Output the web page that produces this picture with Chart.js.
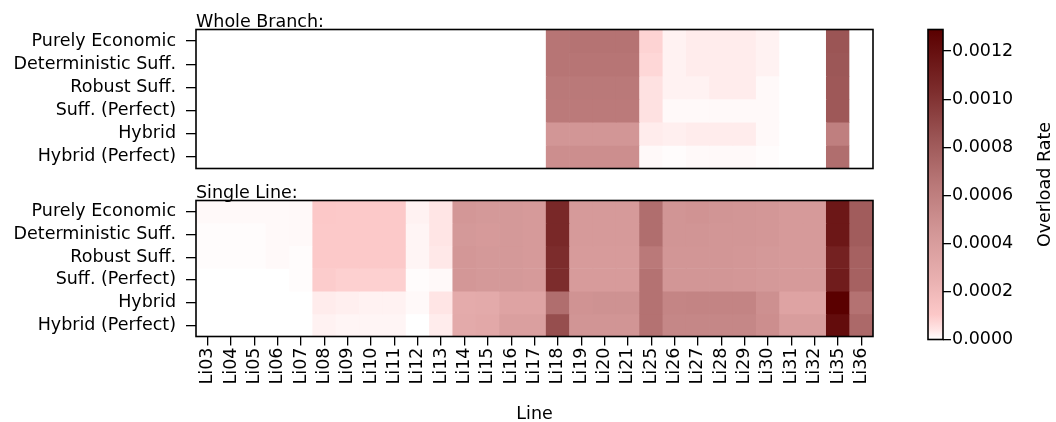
<!DOCTYPE html>
<html>
<head>
<meta charset="utf-8">
<script src="https://cdn.jsdelivr.net/npm/chart.js@4.4.0/dist/chart.umd.min.js"></script>
<style>
  html, body { margin: 0; padding: 0; background: #fff; overflow: hidden; }
  #wrap { position: relative; width: 1056px; height: 422px; overflow: hidden; }
  canvas { position: absolute; }
</style>
</head>
<body>
<div id="wrap">
  <canvas id="topChart" width="890" height="190" style="left:0;top:0"></canvas>
  <canvas id="bottomChart" width="890" height="245" style="left:0;top:180px"></canvas>
  <canvas id="colorbar" width="176" height="422" style="left:880px;top:0"></canvas>
</div>
<script>
  // Data
  const lines = ['Li03', 'Li04', 'Li05', 'Li06', 'Li07', 'Li08', 'Li09', 'Li10', 'Li11', 'Li12',
    'Li13', 'Li14', 'Li15', 'Li16', 'Li17', 'Li18', 'Li19', 'Li20', 'Li21', 'Li25',
    'Li26', 'Li27', 'Li28', 'Li29', 'Li30', 'Li31', 'Li32', 'Li35', 'Li36'];
  const strategies = ['Purely Economic', 'Deterministic Suff.', 'Robust Suff.',
    'Suff. (Perfect)', 'Hybrid', 'Hybrid (Perfect)'];

  // overload rate, one row per strategy
  const wholeBranch = [
    [0, 0, 0, 0, 0, 0, 0, 0, 0, 0, 0, 0, 0, 0, 0, 0.00066, 0.00067, 0.00067, 0.00067, 0.00008, 0.00002, 0.00003, 0.00003, 0.00003, 0.00002, 0, 0, 0.00084, 0],
    [0, 0, 0, 0, 0, 0, 0, 0, 0, 0, 0, 0, 0, 0, 0, 0.00066, 0.00066, 0.00066, 0.00066, 0.00007, 0.00002, 0.00003, 0.00003, 0.00003, 0.00002, 0, 0, 0.00083, 0],
    [0, 0, 0, 0, 0, 0, 0, 0, 0, 0, 0, 0, 0, 0, 0, 0.00064, 0.00064, 0.00064, 0.00064, 0.00005, 0.00002, 0.00002, 0.00003, 0.00003, 0.00001, 0, 0, 0.00082, 0],
    [0, 0, 0, 0, 0, 0, 0, 0, 0, 0, 0, 0, 0, 0, 0, 0.00063, 0.00063, 0.00063, 0.00063, 0.00005, 0.00001, 0.00001, 0.00001, 0.00001, 0.00001, 0, 0, 0.00082, 0],
    [0, 0, 0, 0, 0, 0, 0, 0, 0, 0, 0, 0, 0, 0, 0, 0.00045, 0.00045, 0.00045, 0.00045, 0.00003, 0.000025, 0.00003, 0.00003, 0.00003, 0.00001, 0, 0, 0.0006, 0],
    [0, 0, 0, 0, 0, 0, 0, 0, 0, 0, 0, 0, 0, 0, 0, 0.0005, 0.0005, 0.0005, 0.0005, 0.00001, 0.000005, 0.00001, 0.00001, 0.00001, 0.000005, 0, 0, 0.0007, 0]
  ];
  const singleLine = [
    [0.00001, 0.00001, 0.00001, 0.00001, 0.00001, 0.000105, 0.0001, 0.0001, 0.0001, 0.00002, 0.00004, 0.00044, 0.00043, 0.00043, 0.00042, 0.00106, 0.00042, 0.00042, 0.00042, 0.0007, 0.00046, 0.00047, 0.00046, 0.00045, 0.00044, 0.00042, 0.00042, 0.00116, 0.0008],
    [0.000005, 0.000005, 0.000005, 0.00001, 0.00001, 0.0001, 0.0001, 0.0001, 0.0001, 0.000015, 0.00004, 0.00043, 0.00042, 0.00043, 0.00042, 0.00106, 0.00042, 0.00042, 0.00042, 0.0007, 0.00046, 0.00046, 0.00045, 0.00045, 0.00044, 0.00042, 0.00042, 0.00116, 0.0008],
    [0.000005, 0.000005, 0.000005, 0.00001, 0.000005, 0.0001, 0.0001, 0.0001, 0.0001, 0.000015, 0.000035, 0.00044, 0.00043, 0.00043, 0.00042, 0.00104, 0.00041, 0.00041, 0.00041, 0.00064, 0.00045, 0.00045, 0.00045, 0.00044, 0.00043, 0.00042, 0.00042, 0.0011, 0.00077],
    [0, 0, 0, 0, 0.000005, 0.000095, 0.000085, 0.000085, 0.000085, 0.000005, 0.00001, 0.00044, 0.00043, 0.00043, 0.00042, 0.00104, 0.00041, 0.00041, 0.00041, 0.00068, 0.00045, 0.00045, 0.00045, 0.00044, 0.00043, 0.00042, 0.00042, 0.00113, 0.00077],
    [0, 0, 0, 0, 0, 0.00003, 0.000025, 0.00002, 0.00002, 0.00001, 0.00004, 0.00029, 0.0003, 0.00035, 0.00035, 0.0007, 0.00047, 0.00048, 0.00048, 0.00068, 0.00056, 0.00057, 0.00057, 0.00057, 0.00049, 0.00035, 0.00035, 0.00129, 0.00068],
    [0, 0, 0, 0, 0, 0.00002, 0.000015, 0.000015, 0.000015, 0, 0.00003, 0.0003, 0.00031, 0.00038, 0.00038, 0.00087, 0.00046, 0.00046, 0.00046, 0.00068, 0.00055, 0.00055, 0.00055, 0.00055, 0.0005, 0.0004, 0.0004, 0.00122, 0.00073]
  ];
  const colorbarTicks = [0, 0.0002, 0.0004, 0.0006, 0.0008, 0.001, 0.0012];
  const vmax = 0.00129;

  // white -> pink -> dark red colormap
  const cmapStops = [
    [0, [255, 255, 255]],
    [0.03, [255, 230, 230]],
    [0.08, [252, 200, 200]],
    [0.2, [232, 175, 175]],
    [0.35, [210, 150, 150]],
    [0.5, [185, 120, 120]],
    [0.65, [155, 85, 85]],
    [0.8, [125, 45, 45]],
    [1, [90, 0, 0]]
  ];

  function colorFor(v) {
    const t = Math.max(0, Math.min(1, v / vmax));
    for (let i = 1; i < cmapStops.length; i++) {
      const [t1, c1] = cmapStops[i];
      const [t0, c0] = cmapStops[i - 1];
      if (t <= t1) {
        const f = (t - t0) / (t1 - t0);
        const c = c0.map((x, k) => Math.round(x + (c1[k] - x) * f));
        return 'rgb(' + c.join(',') + ')';
      }
    }
    return 'rgb(90,0,0)';
  }

  const FONT = "17.5px 'DejaVu Sans', sans-serif";
  Chart.defaults.font.family = "'DejaVu Sans', sans-serif";
  Chart.defaults.font.size = 17.5;
  Chart.defaults.color = '#000';

  // frame around chart area + panel title
  const framePlugin = {
    id: 'frame',
    afterDraw(chart, args, opts) {
      const { ctx, chartArea: a } = chart;
      ctx.save();
      ctx.strokeStyle = '#000';
      ctx.lineWidth = 1.6;
      ctx.strokeRect(a.left, a.top, a.right - a.left, a.bottom - a.top);
      ctx.fillStyle = '#000';
      ctx.font = FONT;
      if (opts.title) {
        ctx.textBaseline = 'alphabetic';
        ctx.textAlign = 'left';
        ctx.fillText(opts.title, a.left, a.top - 3);
      }
      if (opts.sideLabel) {
        ctx.translate(165, (a.top + a.bottom) / 2);
        ctx.rotate(-Math.PI / 2);
        ctx.textAlign = 'center';
        ctx.textBaseline = 'middle';
        ctx.fillText(opts.sideLabel, 0, 0);
      }
      ctx.restore();
    }
  };

  function makeHeatmap(id, title, matrix, showX, padTop, xHeight) {
    const datasets = strategies.map((name, r) => ({
      label: name,
      data: lines.map(() => [r - 0.5, r + 0.5]),
      backgroundColor: matrix[r].map(colorFor),
      borderWidth: 0,
      grouped: false,
      barPercentage: 1,
      categoryPercentage: 1
    }));
    return new Chart(document.getElementById(id), {
      type: 'bar',
      data: { labels: lines, datasets: datasets },
      plugins: [framePlugin],
      options: {
        responsive: false,
        animation: false,
        events: [],
        layout: { padding: { top: padTop, right: 17, left: 0, bottom: 0 } },
        plugins: {
          legend: { display: false },
          tooltip: { enabled: false },
          frame: { title: title }
        },
        scales: {
          x: {
            grid: { offset: false, drawOnChartArea: false, display: showX, tickLength: 9, color: '#000', lineWidth: 1.3 },
            border: { display: false },
            ticks: { display: showX, autoSkip: false, minRotation: 90, maxRotation: 90, padding: 2 },
            title: { display: showX, text: 'Line', padding: { top: 4, bottom: 0 } },
            afterFit: s => { s.height = xHeight; }
          },
          y: {
            type: 'linear',
            min: -0.5,
            max: 5.5,
            reverse: true,
            afterBuildTicks: s => { s.ticks = strategies.map((_, i) => ({ value: i })); },
            afterFit: s => { s.width = 196; },
            ticks: { callback: v => strategies[v], padding: 10 },
            grid: { drawOnChartArea: false, tickLength: 10, color: '#000', lineWidth: 1.3 },
            border: { display: false }
          }
        }
      }
    });
  }

  makeHeatmap('topChart', 'Whole Branch:', wholeBranch, false, 29.5, 21.5);
  makeHeatmap('bottomChart', 'Single Line:', singleLine, true, 18.5, 88.5);

  // Colorbar
  new Chart(document.getElementById('colorbar'), {
    type: 'bar',
    data: {
      labels: [''],
      datasets: [{
        data: [[0, vmax]],
        backgroundColor: c => {
          const a = c.chart.chartArea;
          if (!a) return '#fff';
          const g = c.chart.ctx.createLinearGradient(0, a.bottom, 0, a.top);
          cmapStops.forEach(([t, rgb]) => g.addColorStop(t, 'rgb(' + rgb.join(',') + ')'));
          return g;
        },
        borderWidth: 0,
        barPercentage: 1,
        categoryPercentage: 1
      }]
    },
    plugins: [framePlugin],
    options: {
      responsive: false,
      animation: false,
      events: [],
      layout: { padding: { left: 48, top: 29.5, bottom: 82.5, right: 0 } },
      plugins: {
        legend: { display: false },
        tooltip: { enabled: false },
        frame: { sideLabel: 'Overload Rate' }
      },
      scales: {
        x: { display: false },
        y: {
          position: 'right',
          min: 0,
          max: vmax,
          afterBuildTicks: s => { s.ticks = colorbarTicks.map(v => ({ value: v })); },
          afterFit: s => { s.width = 113; },
          ticks: { callback: v => v.toFixed(4), padding: 1 },
          grid: { drawOnChartArea: false, tickLength: 8, color: '#000', lineWidth: 1.3 },
          border: { display: false }
        }
      }
    }
  });
</script>
</body>
</html>
